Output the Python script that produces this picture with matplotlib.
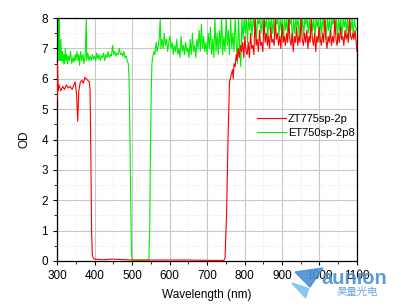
import numpy as np
import matplotlib.pyplot as plt
from matplotlib.ticker import MultipleLocator
from matplotlib.patches import Polygon

plt.rcParams['font.family'] = ['Liberation Sans', 'Noto Sans CJK SC', 'DejaVu Sans']

# ZT775sp-2p (red)
red_wl = [300, 301, 303, 305, 310, 315, 320, 325, 330, 335, 340, 345, 348, 352, 355, 358,
          362, 366, 370, 374, 378, 382, 386, 388, 390, 392, 394, 397, 400, 420, 450, 500,
          550, 600, 650, 700, 745, 748, 752, 756, 760, 764, 768, 770, 772, 775, 778, 780,
          783, 786, 789, 792, 795, 798, 801, 804, 807, 810, 813, 816, 819, 822, 825, 828,
          831, 834, 837, 840, 843, 846, 849, 852, 855, 858, 861, 864, 867, 870, 873, 876,
          879, 882, 885, 888, 891, 894, 897, 900, 903, 906, 909, 912, 915, 918, 921, 924,
          927, 930, 933, 936, 939, 942, 945, 948, 951, 954, 957, 960, 963, 966, 969, 972,
          975, 978, 981, 984, 987, 990, 993, 996, 999, 1002, 1005, 1008, 1011, 1014, 1017,
          1020, 1023, 1026, 1029, 1032, 1035, 1038, 1041, 1044, 1047, 1050, 1053, 1056,
          1059, 1062, 1065, 1068, 1071, 1074, 1077, 1080, 1083, 1086, 1089, 1092, 1095,
          1098, 1100]
red_od = [5.3, 6.5, 5.6, 5.8, 5.6, 5.75, 5.65, 5.8, 5.7, 5.75, 5.65, 5.8, 5.9, 5.5, 4.6, 5.6,
          5.9, 5.95, 5.85, 6.05, 6.0, 5.95, 5.9, 5.6, 3.5, 1.0, 0.2, 0.08, 0.06, 0.04, 0.06, 0.03,
          0.03, 0.03, 0.03, 0.02, 0.02, 0.1, 1.5, 4.0, 5.9, 6.1, 6.3, 6.0, 6.5, 6.4, 6.8, 6.6,
          7.0, 6.7, 7.1, 6.9, 7.2, 6.7, 7.4, 6.9, 6.8, 7.2, 6.7, 7.5, 7.0, 7.1, 6.8, 8.0,
          7.1, 7.3, 6.9, 7.6, 7.1, 7.2, 6.9, 8.0, 7.2, 7.5, 7.1, 7.4, 7.0, 7.7, 7.2, 7.3,
          7.1, 8.0, 7.3, 7.5, 7.1, 7.4, 7.0, 7.8, 7.2, 7.4, 7.1, 7.5, 7.2, 8.0, 7.3, 7.1,
          7.5, 6.9, 7.4, 7.2, 7.7, 7.1, 7.4, 7.2, 8.0, 7.3, 7.1, 7.5, 7.2, 7.6, 7.0, 7.4,
          7.2, 8.0, 7.3, 7.1, 7.5, 6.9, 7.4, 7.2, 7.7, 7.3, 7.1, 7.5, 7.2, 8.0, 7.3,
          7.0, 7.4, 7.2, 7.6, 7.1, 7.4, 7.2, 8.0, 7.3, 7.1, 7.5, 7.2, 7.7,
          7.3, 7.4, 7.1, 7.6, 7.3, 7.5, 7.2, 8.0, 7.4, 7.3, 7.5, 7.3, 7.6,
          7.2, 6.9]

# ET750sp-2p8 (green)
green_wl = [300, 301, 302, 303, 304, 305, 306, 307, 308, 310, 312, 314, 316, 318, 320, 322,
            324, 326, 328, 330, 333, 336, 339, 342, 345, 348, 350, 353, 356, 358, 360, 363,
            366, 369, 372, 375, 378, 379, 382, 385, 388, 391, 394, 397, 400, 403, 406, 409,
            412, 415, 418, 421, 424, 427, 430, 433, 436, 439, 442, 445, 448, 451, 454, 457,
            460, 463, 466, 469, 472, 475, 478, 481, 484, 487, 490, 492, 494, 496, 498, 500,
            520, 545, 547, 549, 551, 553, 555, 558, 561, 564, 567, 570, 573, 575, 577, 580,
            583, 586, 589, 592, 595, 598, 601, 604, 607, 610, 613, 616, 619, 622, 625, 628,
            631, 634, 637, 640, 643, 646, 649, 652, 655, 658, 661, 664, 667, 670, 673, 676,
            679, 682, 685, 688, 691, 694, 697, 700, 703, 706, 709, 712, 715, 718, 721, 724,
            727, 730, 733, 736, 739, 742, 745, 748, 751, 754, 757, 760, 763, 766, 769, 772,
            775, 778, 781, 784, 787, 790, 793, 796, 799, 802, 805, 808, 811, 814, 817, 820,
            823, 826, 829, 832, 835, 838, 841, 844, 847, 850, 853, 856, 859, 862, 865, 868,
            871, 874, 877, 880, 883, 886, 889, 892, 895, 898, 901, 904, 907, 910, 913, 916,
            919, 922, 925, 928, 931, 934, 937, 940, 943, 946, 949, 952, 955, 958, 961, 964,
            967, 970, 973, 976, 979, 982, 985, 988, 991, 994, 997, 1000, 1003, 1006, 1009,
            1012, 1015, 1018, 1021, 1024, 1027, 1030, 1033, 1036, 1039, 1042, 1045, 1048,
            1051, 1054, 1057, 1060, 1063, 1066, 1069, 1072, 1075, 1078, 1081, 1084, 1087,
            1090, 1093, 1096, 1100]
green_od = [6.5, 8.0, 6.6, 7.2, 8.0, 6.9, 8.0, 7.0, 6.6, 7.3, 6.6, 6.9, 6.5, 6.8, 6.5, 7.0,
            6.6, 6.8, 6.5, 6.75, 6.6, 6.9, 6.5, 6.7, 6.55, 6.8, 6.6, 6.9, 6.6, 6.8, 6.45, 6.9,
            6.6, 6.8, 6.5, 6.75, 8.0, 6.6, 6.85, 6.6, 6.75, 6.6, 6.8, 6.65, 6.75, 6.6, 6.85, 6.65,
            6.8, 6.6, 6.75, 6.7, 6.85, 6.6, 6.8, 6.7, 6.9, 6.7, 6.8, 6.75, 7.1, 6.8, 6.9, 6.75,
            6.85, 6.8, 7.0, 6.8, 6.85, 6.75, 6.9, 6.7, 6.75, 6.6, 6.5, 6.0, 4.5, 2.5, 0.5, 0.03,
            0.02, 0.03, 1.0, 3.5, 5.5, 6.5, 6.7, 6.9, 6.8, 7.2, 6.9, 7.1, 7.4, 8.0, 7.0, 7.3,
            7.0, 7.5, 7.1, 7.3, 6.9, 7.2, 7.4, 7.0, 7.2, 6.8, 7.1, 6.9, 7.3, 6.8, 7.0, 6.7,
            7.4, 6.9, 7.1, 6.8, 7.2, 6.9, 7.0, 6.7, 7.3, 6.8, 7.5, 6.9, 7.1, 6.7, 7.3, 7.0,
            7.6, 6.9, 7.8, 7.0, 7.4, 6.9, 7.2, 6.8, 7.5, 7.0, 7.7, 6.8, 7.3, 6.7, 8.0, 6.9,
            7.5, 6.8, 7.6, 7.0, 8.0, 6.8, 7.4, 6.9, 8.0, 7.1, 7.6, 6.8, 8.0, 7.0, 7.5, 6.9,
            8.0, 7.2, 6.5, 8.0, 7.0, 6.4, 8.0, 7.3, 8.0, 7.5, 8.0, 7.2, 8.0, 7.6, 8.0, 7.4,
            8.0, 7.7, 8.0, 7.3, 8.0, 7.8, 8.0, 7.5, 8.0, 7.4, 8.0, 7.7, 8.0, 7.3, 8.0, 7.6,
            8.0, 7.5, 8.0, 7.3, 8.0, 7.8, 8.0, 7.4, 8.0, 7.6, 8.0, 7.3, 8.0, 7.6, 8.0, 7.4,
            8.0, 7.8, 8.0, 7.2, 8.0, 7.5, 8.0, 7.7, 8.0, 7.3, 8.0, 7.6, 8.0, 7.4, 8.0, 7.8,
            8.0, 7.5, 8.0, 7.3, 8.0, 7.6, 8.0, 7.4, 8.0, 7.7, 8.0, 7.2, 8.0, 7.5, 8.0,
            7.7, 8.0, 7.3, 8.0, 7.6, 8.0, 7.4, 8.0, 7.8, 8.0, 7.5, 8.0, 7.3,
            8.0, 7.6, 8.0, 7.4, 8.0, 7.7, 8.0, 7.5, 8.0, 7.3, 8.0, 7.6, 8.0,
            7.4, 8.0, 7.7, 7.6]

labels = ['ZT775sp-2p', 'ET750sp-2p8']


def main():
    fig = plt.figure(figsize=(4.02, 3.07), dpi=100)
    ax = fig.add_axes([0.142, 0.150, 0.746, 0.791])

    lg, = ax.plot(green_wl, green_od, color='#00ee00', lw=0.8, zorder=2)
    lr, = ax.plot(red_wl, red_od, color='#ff0000', lw=0.8, zorder=3)

    ax.set_xlim(300, 1100)
    ax.set_ylim(0, 8)
    ax.xaxis.set_major_locator(MultipleLocator(100))
    ax.xaxis.set_minor_locator(MultipleLocator(50))
    ax.yaxis.set_major_locator(MultipleLocator(1))
    ax.yaxis.set_minor_locator(MultipleLocator(0.5))
    ax.grid(which='major', color='#c8c8c8', lw=0.8)
    ax.grid(which='minor', color='#dddddd', lw=0.5, ls=':')
    ax.set_axisbelow(True)
    ax.tick_params(labelsize=8.5, length=3, width=0.8)
    ax.tick_params(which='minor', length=2)
    for s in ax.spines.values():
        s.set_linewidth(0.9)

    ax.set_xlabel('Wavelength (nm)', fontsize=8.5, labelpad=5)
    ax.set_ylabel('OD', fontsize=8.5, labelpad=8)

    ax.legend([lr, lg], labels, loc='center left', bbox_to_anchor=(0.655, 0.556),
              frameon=False, fontsize=8, handlelength=2.6, borderpad=0.3,
              borderaxespad=0, handletextpad=0.2, labelspacing=0.3)

    # watermark logo
    wing = Polygon([[0.726, 0.078], [0.768, 0.060], [0.760, 0.030]], closed=True,
                   transform=fig.transFigure, color='#7cc4ee', alpha=0.9, zorder=5)
    tri = Polygon([[0.734, 0.114], [0.803, 0.127], [0.771, 0.065]], closed=True,
                  transform=fig.transFigure, color='#4a8fd4', alpha=0.9, zorder=6)
    fig.patches.extend([wing, tri])
    fig.text(0.800, 0.094, 'aunion', color='#4a8fd4', fontsize=14.5, fontweight='bold',
             ha='left', va='center', alpha=0.9)
    fig.text(0.838, 0.050, '昊量光电', color='#6aa6e0', fontsize=7.5, ha='left', va='center',
             family=['Noto Sans CJK SC', 'DejaVu Sans'])

    fig.savefig('out.png', dpi=100)


if __name__ == '__main__':
    main()
